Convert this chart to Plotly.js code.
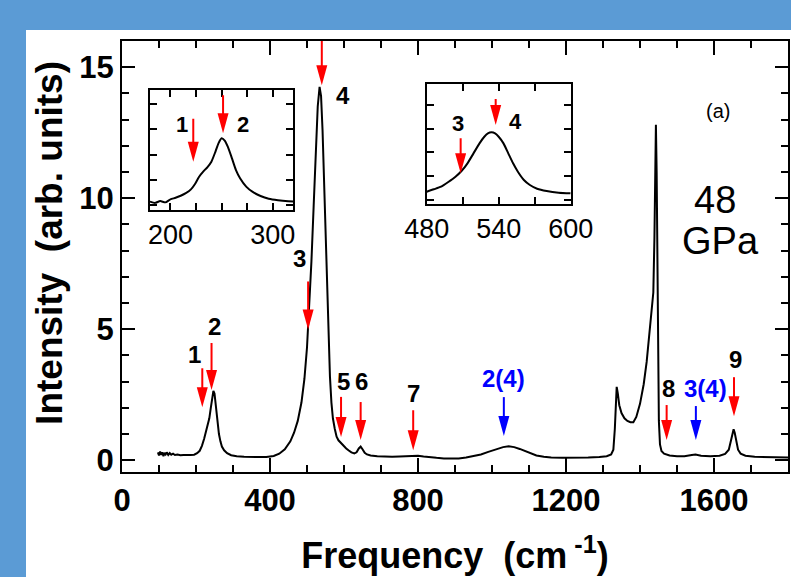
<!DOCTYPE html>
<html>
<head>
<meta charset="utf-8">
<script src="https://cdn.plot.ly/plotly-3.0.1.min.js"></script>
<style>
  html, body { margin: 0; padding: 0; width: 791px; height: 577px; background: #5B9BD5; overflow: hidden; }
  #chart { position: absolute; left: 26px; top: 30px; width: 765px; height: 547px; background: #ffffff; }
</style>
</head>
<body>
<div id="chart"></div>
<script>
// Raman spectrum at 48 GPa (arb. units)
const freq = [97, 100, 103, 106, 109, 112, 115, 118, 121, 125, 129, 133, 138, 143, 150, 158, 166, 175, 185, 195,
  203, 210, 216, 222, 228, 232, 236, 240, 244, 247, 250, 253, 256, 259, 262, 266, 270, 276, 284, 295,
  310, 330, 360, 390, 410, 425, 440, 455, 465, 475, 485, 493, 500, 506, 512, 518, 524, 529, 534, 538,
  542, 546, 550, 554, 558, 562, 566, 570, 575, 580, 585, 590, 595, 600, 606, 612, 620, 628, 634, 640,
  645, 650, 656, 662, 672, 690, 710, 730, 750, 770, 787, 800, 815, 830, 850, 870, 890, 910, 930, 950,
  970, 990, 1010, 1030, 1045, 1060, 1075, 1090, 1105, 1120, 1140, 1160, 1190, 1220, 1260, 1290, 1310, 1322, 1328, 1332,
  1335, 1337, 1340, 1344, 1350, 1358, 1366, 1374, 1382, 1390, 1400, 1410, 1418, 1425, 1431, 1436, 1439, 1441, 1443, 1445,
  1447, 1449, 1451, 1454, 1458, 1465, 1480, 1500, 1520, 1540, 1550, 1565, 1590, 1615, 1630, 1640, 1646, 1650, 1653, 1656,
  1660, 1665, 1672, 1685, 1710, 1740, 1770, 1800];
const intensity = [0.30, 0.18, 0.33, 0.20, 0.30, 0.15, 0.28, 0.22, 0.30, 0.20, 0.27, 0.21, 0.25, 0.20, 0.22, 0.19, 0.20, 0.19, 0.20, 0.21,
  0.27, 0.36, 0.55, 0.82, 1.18, 1.35, 1.60, 2.00, 2.45, 2.65, 2.55, 2.15, 1.70, 1.30, 1.00, 0.72, 0.52, 0.38, 0.27, 0.19,
  0.15, 0.13, 0.12, 0.12, 0.16, 0.25, 0.42, 0.72, 1.05, 1.50, 2.20, 3.10, 4.30, 5.80, 7.60, 9.70, 11.9, 13.5, 14.25, 13.9,
  12.6, 10.8, 8.9, 6.8, 4.8, 3.2, 2.2, 1.6, 1.2, 0.90, 0.76, 0.68, 0.62, 0.55, 0.45, 0.38, 0.30, 0.26, 0.30, 0.45,
  0.52, 0.42, 0.28, 0.22, 0.18, 0.15, 0.13, 0.13, 0.14, 0.16, 0.18, 0.17, 0.14, 0.11, 0.09, 0.07, 0.06, 0.07, 0.10, 0.15,
  0.22, 0.32, 0.42, 0.50, 0.53, 0.50, 0.43, 0.34, 0.25, 0.18, 0.13, 0.10, 0.09, 0.09, 0.10, 0.12, 0.15, 0.22, 0.40, 1.20,
  2.30, 2.80, 2.55, 2.10, 1.80, 1.60, 1.50, 1.45, 1.45, 1.65, 2.15, 2.90, 3.75, 4.70, 5.50, 6.40, 8.50, 11.5, 12.8, 11.0,
  7.5, 3.8, 1.5, 0.60, 0.35, 0.25, 0.18, 0.15, 0.15, 0.20, 0.22, 0.17, 0.15, 0.17, 0.24, 0.40, 0.75, 1.10, 1.18, 1.05,
  0.70, 0.40, 0.25, 0.17, 0.13, 0.12, 0.11, 0.10];

// Inset spectra: low-frequency modes 1-2 and the strong mode 3-4 region
const insetLowFreq = [180, 185, 190, 195, 200, 205, 210, 215, 220, 224, 228, 232, 236, 240, 244, 247, 250, 253, 256, 260,
  264, 268, 274, 280, 288, 296, 305, 315, 320];
const insetLowInt = [0.15, 0.10, 0.17, 0.12, 0.24, 0.30, 0.38, 0.48, 0.63, 0.84, 1.13, 1.33, 1.50, 1.72, 2.12, 2.45, 2.64, 2.55, 2.31, 1.86,
  1.39, 1.07, 0.74, 0.54, 0.37, 0.26, 0.20, 0.16, 0.15];
const insetMidFreq = [480, 486, 492, 498, 504, 509, 514, 519, 524, 528, 531, 534, 537, 540, 544, 548, 552, 556, 561, 566,
  572, 580, 590, 600];
const insetMidInt = [1.80, 2.30, 2.84, 3.82, 4.93, 6.12, 7.73, 9.81, 11.9, 13.28, 13.99, 14.2, 13.99, 13.28, 11.9, 9.81, 7.73, 5.97, 4.24, 3.20,
  2.42, 1.94, 1.59, 1.46];

// Mode markers in the main panel
const modeLabels = ['1', '2', '3', '4', '5', '6', '7', '2(4)', '8', '3(4)', '9'];
const modeFreq   = [217, 242, 503, 540, 592, 645, 787, 1032, 1472, 1551, 1654];
const modeTip    = [2.02, 2.68, 4.99, 14.31, 0.89, 0.77, 0.38, 0.92, 0.77, 0.77, 1.68];
const modeLen    = [39, 47, 48, 45, 40, 38, 40, 39, 35, 34, 39];
const modeArrowColor = ['red', 'red', 'red', 'red', 'red', 'red', 'red', 'blue', 'red', 'blue', 'red'];
const modeTextColor  = ['black', 'black', 'black', 'black', 'black', 'black', 'black', 'blue', 'black', 'blue', 'black'];
const modeLabelX = [197, 249, 481, 597, 598, 648, 787, 1032, 1476, 1576, 1657];
const modeLabelY = [4.02, 5.09, 7.69, 13.93, 3.0, 3.0, 2.55, 3.13, 2.74, 2.74, 3.83];

// Mode markers in the insets
const lowLabels = ['1', '2'];
const lowFreq = [222.3, 251.4];
const lowTip = [1.72, 2.84];
const lowLen = [43, 38];
const lowLabelX = [211, 271];
const lowLabelY = [3.17, 3.17];

const midLabels = ['3', '4'];
const midFreq = [508.3, 537.5];
const midTip = [5.64, 15.72];
const midLen = [35, 26];
const midLabelX = [506.3, 553.6];
const midLabelY = [16.08, 16.41];

const FONT = 'Liberation Sans, Arial, Helvetica, sans-serif';

const shapes = [];
const annotations = [];

function addArrow(xref, yref, x, tip, len, color) {
  shapes.push({
    type: 'line', xref: xref, yref: yref, xsizemode: 'pixel', ysizemode: 'pixel',
    xanchor: x, yanchor: tip, x0: 0, x1: 0, y0: 16, y1: len,
    line: { color: color, width: 2 }
  });
  shapes.push({
    type: 'path', xref: xref, yref: yref, xsizemode: 'pixel', ysizemode: 'pixel',
    xanchor: x, yanchor: tip, path: 'M-5.5,20 L5.5,20 L0,0 Z',
    fillcolor: color, line: { width: 0 }
  });
}
function addLabel(xref, yref, x, y, text, color, size) {
  annotations.push({
    xref: xref, yref: yref, x: x, y: y, text: text, showarrow: false,
    xanchor: 'center', yanchor: 'middle',
    font: { family: FONT, size: size, color: color, weight: 'bold' }
  });
}

modeLabels.forEach((t, i) => {
  addArrow('x', 'y', modeFreq[i], modeTip[i], modeLen[i], modeArrowColor[i]);
  addLabel('x', 'y', modeLabelX[i], modeLabelY[i], t, modeTextColor[i], 24);
});
lowLabels.forEach((t, i) => {
  addArrow('x2', 'y2', lowFreq[i], lowTip[i], lowLen[i], 'red');
  addLabel('x2', 'y2', lowLabelX[i], lowLabelY[i], t, 'black', 22);
});
midLabels.forEach((t, i) => {
  addArrow('x3', 'y3', midFreq[i], midTip[i], midLen[i], 'red');
  addLabel('x3', 'y3', midLabelX[i], midLabelY[i], t, 'black', 22);
});

// Panel text
annotations.push({ xref: 'paper', yref: 'paper', x: 0.895, y: 0.837, text: '(a)', showarrow: false,
  xanchor: 'center', yanchor: 'middle', font: { family: FONT, size: 20, color: 'black' } });
annotations.push({ xref: 'paper', yref: 'paper', x: 0.890, y: 0.63, text: '48', showarrow: false,
  xanchor: 'center', yanchor: 'middle', font: { family: FONT, size: 38, color: 'black' } });
annotations.push({ xref: 'paper', yref: 'paper', x: 0.899, y: 0.536, text: 'GPa', showarrow: false,
  xanchor: 'center', yanchor: 'middle', font: { family: FONT, size: 38, color: 'black' } });
// Y axis title
annotations.push({ xref: 'paper', yref: 'paper', x: -0.11, y: 0.531, text: 'Intensity&nbsp;&nbsp;(arb. units)',
  textangle: -90, showarrow: false, xanchor: 'center', yanchor: 'middle',
  font: { family: FONT, size: 37, color: 'black', weight: 'bold' } });

const lineStyle = { color: 'black', width: 2 };

const traces = [
  { x: freq, y: intensity, xaxis: 'x', yaxis: 'y', type: 'scatter', mode: 'lines', line: lineStyle },
  { x: insetLowFreq, y: insetLowInt, xaxis: 'x2', yaxis: 'y2', type: 'scatter', mode: 'lines',
    line: { color: 'black', width: 2, shape: 'spline', smoothing: 0.6 } },
  { x: insetMidFreq, y: insetMidInt, xaxis: 'x3', yaxis: 'y3', type: 'scatter', mode: 'lines',
    line: { color: 'black', width: 2, shape: 'spline', smoothing: 0.6 } }
];

const axisCommon = {
  showline: true, linecolor: 'black', linewidth: 2, mirror: 'allticks',
  ticks: 'inside', tickcolor: 'black', tickwidth: 2,
  showgrid: false, zeroline: false, fixedrange: true
};

const layout = {
  width: 765, height: 547,
  margin: { l: 96, r: 3, t: 11, b: 105 },
  paper_bgcolor: '#ffffff', plot_bgcolor: '#ffffff',
  showlegend: false, hovermode: false,
  font: { family: FONT, color: 'black' },
  xaxis: Object.assign({}, axisCommon, {
    range: [0, 1800], tickvals: [0, 400, 800, 1200, 1600], ticklen: 14,
    minor: { dtick: 100, ticklen: 7, tickwidth: 2, tickcolor: 'black', ticks: 'inside' },
    tickfont: { family: FONT, size: 31, weight: 'bold' },
    title: { text: 'Frequency&nbsp;&nbsp;(cm<sup>&nbsp;-1</sup>)', standoff: 26,
      font: { family: FONT, size: 36, weight: 'bold' } }
  }),
  yaxis: Object.assign({}, axisCommon, {
    range: [-0.45, 16], tickvals: [0, 5, 10, 15], ticklen: 13,
    minor: { dtick: 1, ticklen: 7, tickwidth: 2, tickcolor: 'black', ticks: 'inside' },
    tickfont: { family: FONT, size: 31, weight: 'bold' }
  }),
  xaxis2: Object.assign({}, axisCommon, {
    domain: [0.042, 0.2572], anchor: 'y2', range: [180, 320],
    tickvals: [200, 300], ticklen: 7,
    minor: { tickvals: [225, 250, 275], ticklen: 7, tickwidth: 2, tickcolor: 'black', ticks: 'inside' },
    tickfont: { family: FONT, size: 27 }
  }),
  yaxis2: Object.assign({}, axisCommon, {
    domain: [0.6079, 0.8863], anchor: 'x2', range: [-0.18, 4.54],
    dtick: 1, ticklen: 7, showticklabels: false
  }),
  xaxis3: Object.assign({}, axisCommon, {
    domain: [0.4575, 0.6737], anchor: 'y3', range: [480, 600],
    tickvals: [480, 540, 600], ticklen: 7,
    minor: { tickvals: [510, 570], ticklen: 7, tickwidth: 2, tickcolor: 'black', ticks: 'inside' },
    tickfont: { family: FONT, size: 27 }
  }),
  yaxis3: Object.assign({}, axisCommon, {
    domain: [0.6218, 0.9002], anchor: 'x3', range: [-0.77, 24.3],
    dtick: 5, ticklen: 7, showticklabels: false
  }),
  shapes: shapes,
  annotations: annotations
};

Plotly.newPlot('chart', traces, layout, { displayModeBar: false, staticPlot: true });
</script>
</body>
</html>
